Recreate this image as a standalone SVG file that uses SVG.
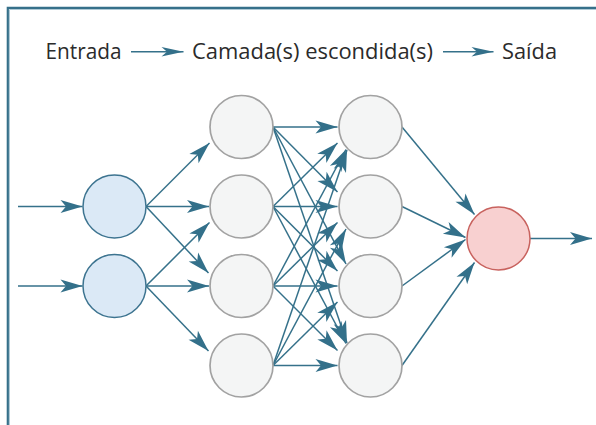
<svg xmlns="http://www.w3.org/2000/svg" width="596" height="425" viewBox="0 0 596 425">
<defs>
<style>
.t{font-family:"Open Sans","Noto Sans","Liberation Sans",sans-serif;font-size:22px;fill:#2b2b2b}
.e{stroke:#35718a;stroke-width:1.5;fill:none;marker-end:url(#ah)}
.te{stroke:#35718a;stroke-width:1.6;fill:none;marker-end:url(#th)}
.in{fill:#dbe9f6;stroke:#3d7490;stroke-width:1.5}
.hd{fill:#f4f5f5;stroke:#a2a2a2;stroke-width:1.7}
.out{fill:#f8d0d0;stroke:#c8625e;stroke-width:1.5}
</style>
<marker id="ah" viewBox="-24 -8 25 16" refX="0" refY="0" markerWidth="25" markerHeight="16" markerUnits="userSpaceOnUse" orient="auto">
<path d="M0,0 L-22,-6.5 L-16.5,0 L-22,6.5 Z" fill="#33708a"/>
</marker>
<marker id="th" viewBox="-24 -6 25 12" refX="0" refY="0" markerWidth="25" markerHeight="12" markerUnits="userSpaceOnUse" orient="auto">
<path d="M0,0 L-22,-4.8 L-16.5,0 L-22,4.8 Z" fill="#33708a"/>
</marker>
</defs>
<rect width="596" height="425" fill="#ffffff"/>
<g id="frame">
<path d="M7.8,425 V7.8 H596" fill="none" stroke="#36708a" stroke-width="2.2"/>
<path d="M9.5,425 V9.5 H596" fill="none" stroke="#9cbccb" stroke-width="0.8"/>
</g>
<g id="title">
<text class="t" x="45.5" y="59.3" textLength="76" lengthAdjust="spacingAndGlyphs">Entrada</text>
<text class="t" x="192" y="59.3" textLength="241" lengthAdjust="spacingAndGlyphs">Camada(s) escondida(s)</text>
<text class="t" x="502" y="59.3" textLength="55" lengthAdjust="spacingAndGlyphs">Saída</text>
<line class="te" x1="131" y1="51.7" x2="183.5" y2="51.7"/>
<line class="te" x1="443" y1="51.7" x2="493.5" y2="51.7"/>
</g>
<g id="connectors">
<line class="e" x1="18" y1="206.5" x2="82.5" y2="206.5"/>
<line class="e" x1="18" y1="286" x2="82.5" y2="286"/>
<line class="e" x1="146" y1="206.5" x2="209.5" y2="143"/>
<line class="e" x1="146" y1="206.5" x2="209" y2="206.5"/>
<line class="e" x1="146" y1="206.5" x2="208.5" y2="273"/>
<line class="e" x1="146" y1="286" x2="209.5" y2="222.5"/>
<line class="e" x1="146" y1="286" x2="209" y2="286"/>
<line class="e" x1="146" y1="286" x2="208.5" y2="351"/>
<line class="e" x1="273" y1="127" x2="337.5" y2="127"/>
<line class="e" x1="273" y1="127" x2="337.5" y2="192"/>
<line class="e" x1="273" y1="127" x2="346" y2="264"/>
<line class="e" x1="273" y1="127" x2="347" y2="343"/>
<line class="e" x1="273" y1="206.5" x2="337.5" y2="143"/>
<line class="e" x1="273" y1="206.5" x2="337.5" y2="206.5"/>
<line class="e" x1="273" y1="206.5" x2="337.5" y2="271"/>
<line class="e" x1="273" y1="206.5" x2="346" y2="343.5"/>
<line class="e" x1="273" y1="286" x2="346" y2="149.5"/>
<line class="e" x1="273" y1="286" x2="337.5" y2="222.5"/>
<line class="e" x1="273" y1="286" x2="337.5" y2="286"/>
<line class="e" x1="273" y1="286" x2="337.5" y2="350.5"/>
<line class="e" x1="273" y1="365.5" x2="347" y2="150"/>
<line class="e" x1="273" y1="365.5" x2="346" y2="229"/>
<line class="e" x1="273" y1="365.5" x2="337.5" y2="302"/>
<line class="e" x1="273" y1="365.5" x2="337.5" y2="365.5"/>
<line class="e" x1="402" y1="127" x2="474.5" y2="214.5"/>
<line class="e" x1="402" y1="206.5" x2="465.5" y2="237.5"/>
<line class="e" x1="402" y1="286" x2="465.5" y2="239.5"/>
<line class="e" x1="402" y1="365.5" x2="474.5" y2="262.5"/>
<line class="e" x1="530" y1="238.5" x2="592" y2="238.5"/>
</g>
<g id="input1"><circle class="in" cx="114.5" cy="206.5" r="31.5"/></g>
<g id="input2"><circle class="in" cx="114.5" cy="286" r="31.5"/></g>
<g id="hidden1-1"><circle class="hd" cx="241.5" cy="127" r="31.5"/></g>
<g id="hidden1-2"><circle class="hd" cx="241.5" cy="206.5" r="31.5"/></g>
<g id="hidden1-3"><circle class="hd" cx="241.5" cy="286" r="31.5"/></g>
<g id="hidden1-4"><circle class="hd" cx="241.5" cy="365.5" r="31.5"/></g>
<g id="hidden2-1"><circle class="hd" cx="370.5" cy="127" r="31.5"/></g>
<g id="hidden2-2"><circle class="hd" cx="370.5" cy="206.5" r="31.5"/></g>
<g id="hidden2-3"><circle class="hd" cx="370.5" cy="286" r="31.5"/></g>
<g id="hidden2-4"><circle class="hd" cx="370.5" cy="365.5" r="31.5"/></g>
<g id="output"><circle class="out" cx="498.5" cy="238.5" r="31.5"/></g>
</svg>
